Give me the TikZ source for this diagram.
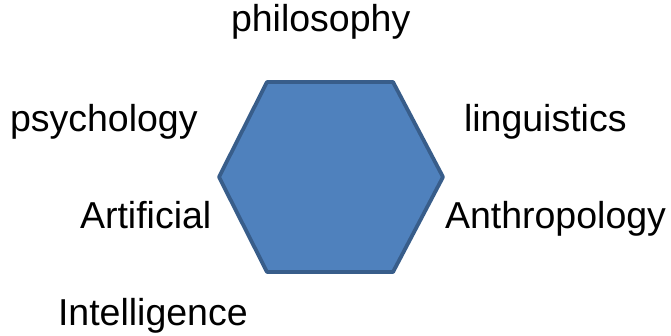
\documentclass[tikz,border=0pt]{standalone}
\usepackage{fontspec}
\setmainfont{Liberation Sans}
\definecolor{hexfill}{HTML}{4F81BD}
\definecolor{hexline}{HTML}{385D8A}
\tikzset{
  lbl/.style={anchor=base west, inner sep=0pt, outer sep=0pt, font=\fontsize{37.5}{40}\selectfont, text=black},
  hexshape/.style={fill=hexfill, draw=hexline, line width=3.8pt, line join=round}
}
\begin{document}
\begin{tikzpicture}[x=1pt,y=1pt]
\useasboundingbox (0,0) rectangle (671,335);
\fill[white] (0,0) rectangle (671,335);
\coordinate (h1) at (267,253);
\coordinate (h2) at (393,253);
\coordinate (h3) at (443,158);
\coordinate (h4) at (393,63);
\coordinate (h5) at (267,63);
\coordinate (h6) at (219,158);
\draw[hexshape] (h1) -- (h2) -- (h3) -- (h4) -- (h5) -- (h6) -- cycle;
\node[lbl] (philosophy) at (231,303) {philosophy};
\node[lbl] (psychology) at (10,204) {psychology};
\node[lbl] (linguistics) at (464,204) {linguistics};
\node[lbl] (artificial) at (80,107) {Artificial};
\node[lbl] (anthropology) at (445,107) {Anthropology};
\node[lbl] (intelligence) at (58,10) {Intelligence};
\end{tikzpicture}
\end{document}
